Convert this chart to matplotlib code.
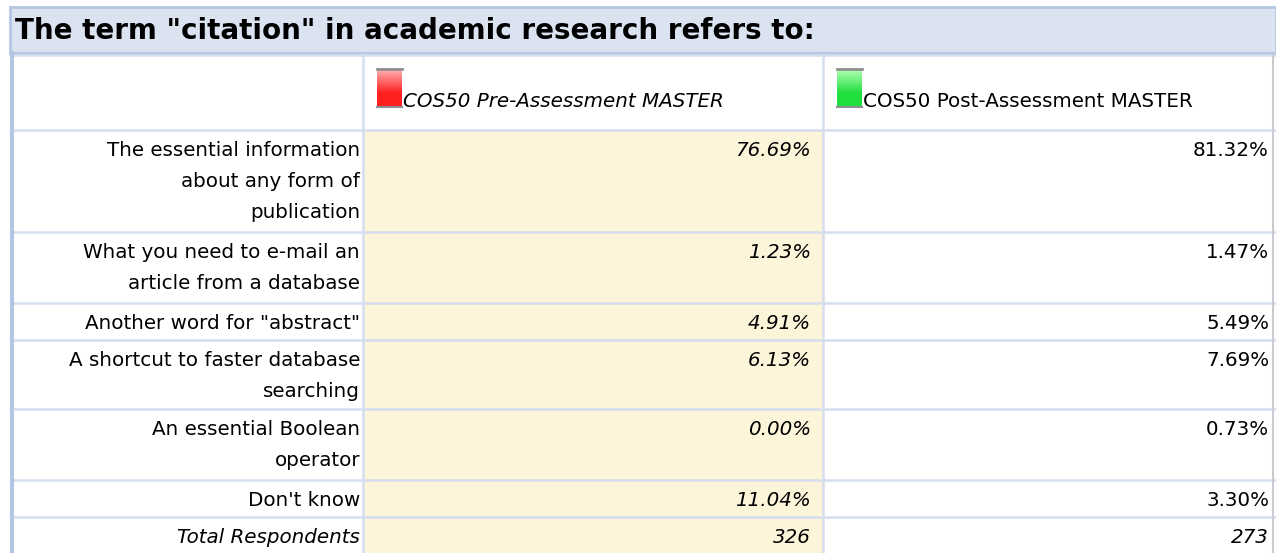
import matplotlib
matplotlib.use('Agg')
import matplotlib.pyplot as plt
from matplotlib.patches import Rectangle
import numpy as np

title = 'The term "citation" in academic research refers to:'
series = ["COS50 Pre-Assessment MASTER", "COS50 Post-Assessment MASTER"]
answers = [
    "The essential information\nabout any form of\npublication",
    "What you need to e-mail an\narticle from a database",
    'Another word for "abstract"',
    "A shortcut to faster database\nsearching",
    "An essential Boolean\noperator",
    "Don't know",
]
pre_pct = [76.69, 1.23, 4.91, 6.13, 0.00, 11.04]
post_pct = [81.32, 1.47, 5.49, 7.69, 0.73, 3.30]
totals = [326, 273]

W, H = 1276, 553
fig = plt.figure(figsize=(W / 100, H / 100), dpi=100)
ax = fig.add_axes([0, 0, 1, 1])
ax.set_xlim(0, W)
ax.set_ylim(H, 0)
ax.axis('off')

grid = '#d5ddef'
edge = '#b3c6e4'
cream = '#fdf5da'
font = 'DejaVu Sans'
fs = 14.3

# layout (pixels)
col_x = [13, 363, 823, 1273]
row_y = [130, 232, 303, 340, 409, 480, 517, 560]
head_top = 55
pad = 11

# title bar
ax.add_patch(Rectangle((10, 7), W - 10, 46, facecolor='#dce3f0', edgecolor=edge, lw=2))
ax.text(15, 31, title, fontsize=20, fontweight='bold', family=font,
        va='center', ha='left', color='black')

# cream column
ax.add_patch(Rectangle((col_x[1], row_y[0]), col_x[2] - col_x[1], H - row_y[0],
                       facecolor=cream, edgecolor='none'))

# grid lines
for y in [head_top] + row_y[:-1]:
    ax.plot([col_x[0], W], [y, y], color=grid, lw=1.8)
for x in col_x[1:3]:
    ax.plot([x, x], [head_top, H], color=grid, lw=1.8)
ax.plot([col_x[3], col_x[3]], [head_top, H], color='#c8cbd0', lw=1.5)
ax.plot([col_x[0] - 1, col_x[0] - 1], [head_top - 2, H], color=edge, lw=3)

# header legend swatches
swatch_cols = [('#ffb8b8', '#ff2020'), ('#b8ffb8', '#20e040')]
for i, name in enumerate(series):
    x0 = col_x[i + 1] + 14
    top, bot = 68, 108
    grad = np.linspace(0, 1, 40).reshape(-1, 1)
    c0 = np.array(matplotlib.colors.to_rgb(swatch_cols[i][0]))
    c1 = np.array(matplotlib.colors.to_rgb(swatch_cols[i][1]))
    img = c0 + (c1 - c0) * np.clip(grad * 1.6, 0, 1)[:, :, None]
    ax.imshow(img, extent=(x0, x0 + 25, bot, top), aspect='auto', zorder=3)
    ax.plot([x0, x0 + 25], [top + 1, top + 1], color='#909090', lw=2, zorder=4)
    ax.plot([x0, x0 + 25], [bot - 1, bot - 1], color='#909090', lw=1.5, zorder=4)
    ax.text(x0 + 26, bot - 1, name, fontsize=fs, family=font,
            style='italic' if i == 0 else 'normal', ha='left', va='baseline')

# body rows
for r, label in enumerate(answers):
    yt = row_y[r] + pad
    ax.text(col_x[1] - 3, yt, label, fontsize=fs, family=font, ha='right',
            va='top', linespacing=1.8, multialignment='right')
    ax.text(col_x[2] - 12, yt, '%.2f%%' % pre_pct[r], fontsize=fs, family=font,
            style='italic', ha='right', va='top')
    ax.text(col_x[3] - 4, yt, '%.2f%%' % post_pct[r], fontsize=fs, family=font,
            ha='right', va='top')

yt = row_y[6] + pad
ax.text(col_x[1] - 3, yt, 'Total Respondents', fontsize=fs, family=font,
        style='italic', ha='right', va='top')
ax.text(col_x[2] - 12, yt, str(totals[0]), fontsize=fs, family=font,
        style='italic', ha='right', va='top')
ax.text(col_x[3] - 4, yt, str(totals[1]), fontsize=fs, family=font,
        style='italic', ha='right', va='top')

fig.savefig('out.png', dpi=100)
